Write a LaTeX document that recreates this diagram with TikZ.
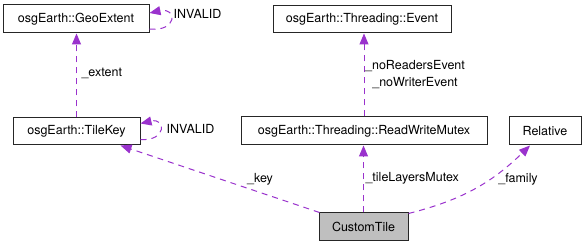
\documentclass[tikz,border=0pt]{standalone}
\usepackage{fontspec}
\setmainfont{TeX Gyre Heros}
\usepackage{tikz}
\usetikzlibrary{arrows.meta}
\definecolor{usecol}{HTML}{9A32CD}

\begin{document}
\begin{tikzpicture}[x=1pt, y=1pt,
    every node/.style={font=\fontsize{12.5}{17}\selectfont},
    cls/.style={rectangle, draw=black!85, line width=1pt, inner sep=0pt, fill=white},
    use/.style={draw=usecol, line width=1pt, dash pattern=on 6pt off 5pt,
        -{Triangle[length=11pt,width=9pt]}}]
    \fill[white] (0,0) rectangle (585,248);
    % classes
    \node[cls, minimum width=146pt, minimum height=28pt] (geo) at (76,229) {osgEarth::GeoExtent};
    \node[cls, minimum width=127pt, minimum height=27pt] (key) at (76.5,116.5) {osgEarth::TileKey};
    \node[cls, minimum width=178pt, minimum height=27pt] (evt) at (362,228.5) {osgEarth::Threading::Event};
    \node[cls, minimum width=246pt, minimum height=28pt] (rwm) at (364,117) {osgEarth::Threading::ReadWriteMutex};
    \node[cls, minimum width=72pt, minimum height=28pt] (rel) at (545,117) {Relative};
    \node[cls, fill=black!25, minimum width=89pt, minimum height=28pt] (tile) at (363.5,21) {CustomTile};
    % members
    \draw[use] ([yshift=-10pt]geo.east) .. controls +(28,-3) and +(28,6) .. ([yshift=6pt]geo.east);
    \node[anchor=west] (geoinv) at (170,234) {INVALID};
    \draw[use] (key.north) -- (key.north |- geo.south);
    \node[anchor=west] (extent) at (78,175) {\_extent};
    \draw[use] ([yshift=-8pt]key.east) .. controls +(26,-2) and +(26,6) .. ([yshift=8pt]key.east);
    \node[anchor=west] (keyinv) at (163,119) {INVALID};
    \draw[use] (rwm.north) -- (rwm.north |- evt.south);
    \node[align=center] (events) at (415,173.5) {\_noReadersEvent\\\_noWriterEvent};
    \draw[use] (tile.north) -- (tile.north |- rwm.south);
    \node[anchor=west] (mutex) at (362,70) {\_tileLayersMutex};
    \draw[use] ([xshift=1pt]tile.north west) -- ([xshift=-20pt]key.south east);
    \node (keylbl) at (260,69) {\_key};
    \draw[use] ([yshift=-1pt]tile.north east) to[bend right=15] ([xshift=-15pt]rel.south);
    \node (family) at (518,69) {\_family};
\end{tikzpicture}
\end{document}
